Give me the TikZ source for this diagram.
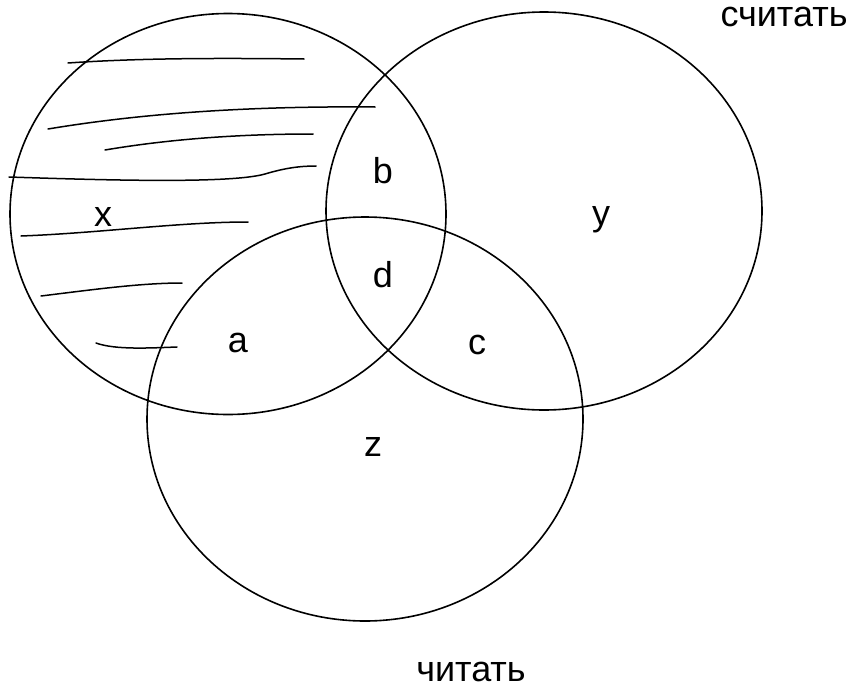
\documentclass[tikz,border=0pt]{standalone}
\usepackage{fontspec}
\setmainfont{Liberation Sans}
\usetikzlibrary{shapes.geometric}

\begin{document}
\begin{tikzpicture}[x=1pt, y=-1pt,
    set/.style = {draw, ellipse, line width=1.6pt, inner sep=0pt},
    lbl/.style = {inner sep=0pt, font=\fontsize{36}{40}\selectfont},
    hatch/.style = {line width=1.5pt, line cap=round}]
    \useasboundingbox (0,0) rectangle (856,688);

    \node[set, minimum width=436pt, minimum height=401pt] (X) at (228,214) {};
    \node[set, minimum width=436pt, minimum height=398pt] (Y) at (544,211) {};
    \node[set, minimum width=436pt, minimum height=404pt] (Z) at (365,419) {};

    \node[lbl] (lx) at (103,217) {x};
    \node[lbl] (ly) at (601,220) {y};
    \node[lbl] (lb) at (383,171) {b};
    \node[lbl] (ld) at (383,275) {d};
    \node[lbl] (la) at (238,343) {a};
    \node[lbl] (lc) at (477,345) {c};
    \node[lbl] (lz) at (373,447) {z};
    \node[lbl] (count) at (784,17) {считать};
    \node[lbl] (read) at (471,672) {читать};

    % hand-drawn hatching in x
    \draw[hatch] (68,63) .. controls (140,58) and (220,58) .. (304,59);
    \draw[hatch] (48,129) .. controls (150,112) and (260,106) .. (375,107);
    \draw[hatch] (105,150) .. controls (170,139) and (240,134) .. (313,134);
    \draw[hatch] (9,177) .. controls (100,180) and (230,184) .. (265,174)
        .. controls (285,168) and (300,166) .. (316,166);
    \draw[hatch] (21,236) .. controls (100,233) and (180,222) .. (248,222);
    \draw[hatch] (41,296) .. controls (90,290) and (140,283) .. (182,283);
    \draw[hatch] (96,343) .. controls (115,350) and (150,348) .. (177,347);
\end{tikzpicture}
\end{document}
